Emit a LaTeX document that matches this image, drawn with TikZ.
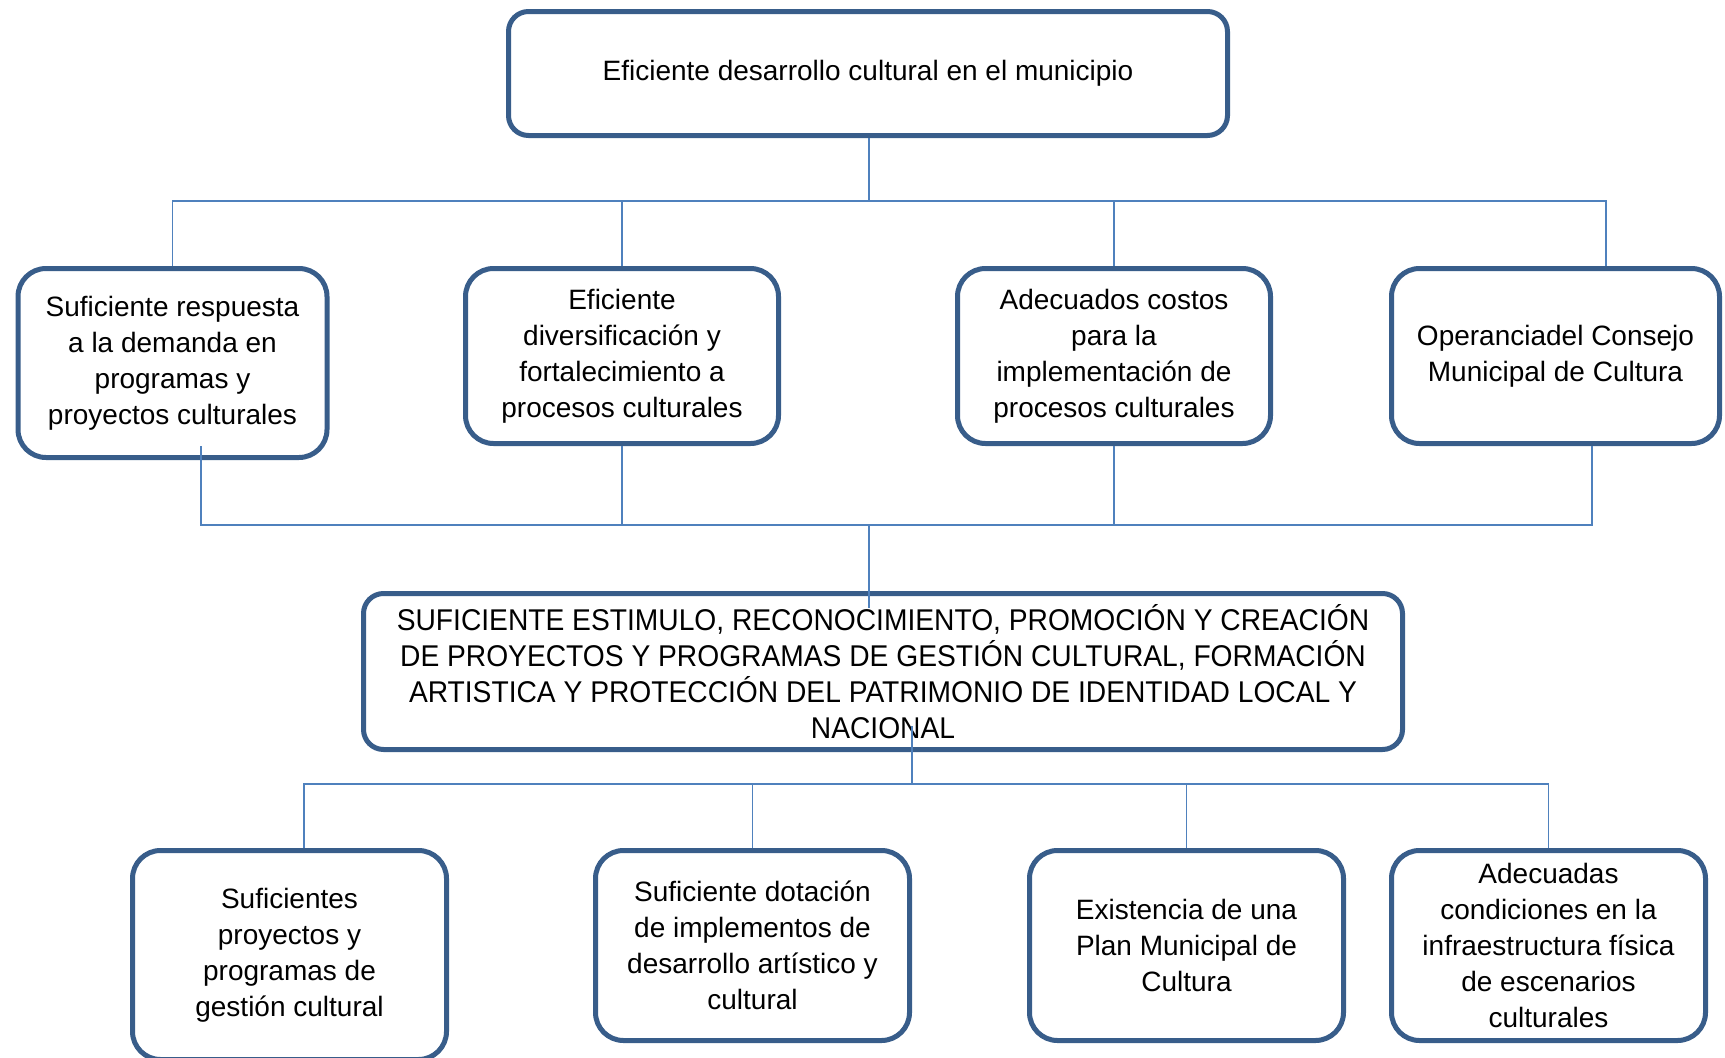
\documentclass[tikz,border=0pt]{standalone}
\usepackage{fontspec}
\setmainfont{Liberation Sans}
\newfontfamily\narrowfont[FakeStretch=0.94]{Liberation Sans}
\definecolor{boxblue}{RGB}{56,93,138}
\definecolor{lineblue}{RGB}{79,129,189}
\tikzset{
  box/.style={draw=boxblue, line width=5pt, fill=white, rounded corners=28pt,
    align=center, inner sep=0pt, font=\fontsize{28}{36}\selectfont},
  link/.style={draw=lineblue, line width=1.6pt}
}
\begin{document}
\begin{tikzpicture}[x=1pt,y=-1pt]
  \useasboundingbox (0,0) rectangle (1725,1058);
  % top
  \node[box, rounded corners=20pt, minimum width=719pt, minimum height=124pt] (top) at (868,73.5)
    {Eficiente desarrollo cultural en el municipio};
  % causes
  \node[box, minimum width=309pt, minimum height=189pt] (c1) at (172.5,363)
    {Suficiente respuesta\\a la demanda en\\programas y\\proyectos culturales};
  \node[box, minimum width=313pt, minimum height=175pt] (c2) at (622,356)
    {Eficiente\\diversificación y\\fortalecimiento a\\procesos culturales};
  \node[box, minimum width=313pt, minimum height=175pt] (c3) at (1114,356)
    {Adecuados costos\\para la\\implementación de\\procesos culturales};
  \node[box, minimum width=328pt, minimum height=175pt] (c4) at (1555.5,356)
    {Operanciadel Consejo\\Municipal de Cultura};
  % middle
  \node[box, rounded corners=20pt, minimum width=1039pt, minimum height=156pt,
    font=\narrowfont\fontsize{30}{36}\selectfont] (mid) at (883,671.5)
    {SUFICIENTE ESTIMULO, RECONOCIMIENTO, PROMOCIÓN Y CREACIÓN\\
     DE PROYECTOS Y PROGRAMAS DE GESTIÓN CULTURAL, FORMACIÓN\\
     ARTISTICA Y PROTECCIÓN DEL PATRIMONIO DE IDENTIDAD LOCAL Y\\
     NACIONAL};
  % means
  \node[box, minimum width=314pt, minimum height=209pt] (m1) at (289.5,955)
    {Suficientes\\proyectos y\\programas de\\gestión cultural};
  \node[box, minimum width=314pt, minimum height=190pt] (m2) at (752.5,945.5)
    {Suficiente dotación\\de implementos de\\desarrollo artístico y\\cultural};
  \node[box, minimum width=314pt, minimum height=190pt] (m3) at (1186.5,945.5)
    {Existencia de una\\Plan Municipal de\\Cultura};
  \node[box, minimum width=314pt, minimum height=190pt] (m4) at (1548.5,945.5)
    {Adecuadas\\condiciones en la\\infraestructura física\\de escenarios\\culturales};
  % bus points
  \coordinate (busA) at (869,201);
  \coordinate (c4in) at (1606,266);
  \coordinate (c1out) at (201,446);
  \coordinate (c4out) at (1592,446);
  \coordinate (busB) at (869,525);
  \coordinate (midin) at (869,608);
  \coordinate (midout) at (912,726);
  \coordinate (busC) at (912,784);
  \coordinate (m1in) at (304,848);
  % top to causes
  \draw[link] (top.south -| busA) -- (busA);
  \draw[link] (c1.north) -- (c1.north |- busA) -- (c4in |- busA) -- (c4in);
  \draw[link] (c2.north) -- (c2.north |- busA);
  \draw[link] (c3.north) -- (c3.north |- busA);
  % causes to middle
  \draw[link] (c1out) -- (c1out |- busB) -- (c4out |- busB) -- (c4out);
  \draw[link] (c2.south) -- (c2.south |- busB);
  \draw[link] (c3.south) -- (c3.south |- busB);
  \draw[link] (busB) -- (midin);
  % middle to means
  \draw[link] (midout) -- (busC);
  \draw[link] (m1in) -- (m1in |- busC) -- (m4.north |- busC) -- (m4.north);
  \draw[link] (m2.north) -- (m2.north |- busC);
  \draw[link] (m3.north) -- (m3.north |- busC);
\end{tikzpicture}
\end{document}
